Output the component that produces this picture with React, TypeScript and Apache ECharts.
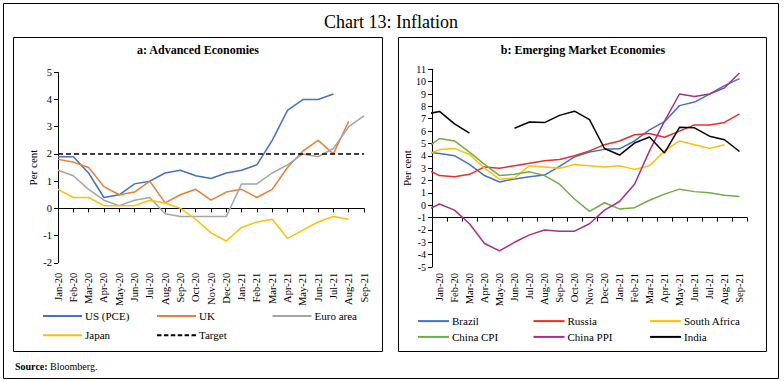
import React, { useEffect, useRef } from "react";
import * as echarts from "echarts";

const FONT = "'Liberation Serif', 'Times New Roman', serif";

// Panel a: Advanced Economies (Jan-20 .. Sep-21)
const catsL = ["Jan-20","Feb-20","Mar-20","Apr-20","May-20","Jun-20","Jul-20","Aug-20","Sep-20","Oct-20","Nov-20","Dec-20","Jan-21","Feb-21","Mar-21","Apr-21","May-21","Jun-21","Jul-21","Aug-21","Sep-21"];
const usPce = [1.9,1.9,1.3,0.4,0.5,0.9,1.0,1.3,1.4,1.2,1.1,1.3,1.4,1.6,2.5,3.6,4.0,4.0,4.2,null,null];
const uk = [1.8,1.7,1.5,0.8,0.5,0.6,1.0,0.2,0.5,0.7,0.3,0.6,0.7,0.4,0.7,1.5,2.1,2.5,2.0,3.2,null];
const euroArea = [1.4,1.2,0.7,0.3,0.1,0.3,0.4,-0.2,-0.3,-0.3,-0.3,-0.3,0.9,0.9,1.3,1.6,2.0,1.9,2.2,3.0,3.4];
const japan = [0.7,0.4,0.4,0.1,0.1,0.1,0.3,0.2,0.0,-0.4,-0.9,-1.2,-0.7,-0.5,-0.4,-1.1,-0.8,-0.5,-0.3,-0.4,null];
const target = [2,2,2,2,2,2,2,2,2,2,2,2,2,2,2,2,2,2,2,2,2];

// Panel b: Emerging Market Economies (Dec-19 .. Sep-21; axis shows Jan-20 .. Sep-21)
const catsR = ["Dec-19","Jan-20","Feb-20","Mar-20","Apr-20","May-20","Jun-20","Jul-20","Aug-20","Sep-20","Oct-20","Nov-20","Dec-20","Jan-21","Feb-21","Mar-21","Apr-21","May-21","Jun-21","Jul-21","Aug-21","Sep-21"];
const brazil = [4.31,4.19,4.01,3.30,2.40,1.88,2.13,2.31,2.44,3.14,3.92,4.31,4.52,4.56,5.20,6.10,6.76,8.06,8.35,8.99,9.68,10.25];
const russia = [3.0,2.4,2.3,2.5,3.1,3.0,3.2,3.4,3.6,3.7,4.0,4.4,4.9,5.2,5.7,5.8,5.5,6.0,6.5,6.5,6.7,7.4];
const southAfrica = [4.0,4.5,4.6,4.1,3.0,2.1,2.2,3.2,3.1,3.0,3.3,3.2,3.1,3.2,2.9,3.2,4.4,5.2,4.9,4.6,4.9,null];
const chinaCpi = [4.5,5.4,5.2,4.3,3.3,2.4,2.5,2.7,2.4,1.7,0.5,-0.5,0.2,-0.3,-0.2,0.4,0.9,1.3,1.1,1.0,0.8,0.7];
const chinaPpi = [-0.5,0.1,-0.4,-1.5,-3.1,-3.7,-3.0,-2.4,-2.0,-2.1,-2.1,-1.5,-0.4,0.3,1.7,4.4,6.8,9.0,8.8,9.0,9.5,10.7];
const india = [7.35,7.59,6.58,5.84,null,null,6.23,6.73,6.69,7.27,7.61,6.93,4.59,4.06,5.03,5.52,4.23,6.30,6.26,5.59,5.30,4.35];

const seriesL = [
  { name: "US (PCE)", data: usPce, color: "#4472C4" },
  { name: "UK", data: uk, color: "#ED7D31" },
  { name: "Euro area", data: euroArea, color: "#A5A5A5" },
  { name: "Japan", data: japan, color: "#FFC000" },
];
const seriesR = [
  { name: "Brazil", data: brazil, color: "#4472C4" },
  { name: "Russia", data: russia, color: "#E8302A" },
  { name: "South Africa", data: southAfrica, color: "#FFC000" },
  { name: "China CPI", data: chinaCpi, color: "#70AD47" },
  { name: "China PPI", data: chinaPpi, color: "#A8308C" },
  { name: "India", data: india, color: "#000000" },
];

const legendL = [
  { name: "US (PCE)", x: 43, y: 316.6 },
  { name: "UK", x: 157, y: 316.6 },
  { name: "Euro area", x: 272.5, y: 316.6 },
  { name: "Japan", x: 43, y: 335.8 },
  { name: "Target", x: 157, y: 335.8 },
];
const legendR = [
  { name: "Brazil", x: 418, y: 321.6 },
  { name: "Russia", x: 533.5, y: 321.6 },
  { name: "South Africa", x: 650, y: 321.6 },
  { name: "China CPI", x: 418, y: 337.4 },
  { name: "China PPI", x: 533.5, y: 337.4 },
  { name: "India", x: 650, y: 337.4 },
];

const DASH_ICON =
  "path://M0,0h4.5v2h-4.5z M6.9,0h4.5v2h-4.5z M13.8,0h4.5v2h-4.5z M20.7,0h4.5v2h-4.5z M27.6,0h4.5v2h-4.5z M34.5,0h4.5v2h-4.5z";

export default function App() {
  const ref = useRef<HTMLDivElement>(null);
  useEffect(() => {
    if (!ref.current) return;
    const chart = echarts.init(ref.current, undefined, { renderer: "svg" });

    const axisLineStyle = { color: "#000", width: 1 };
    const labelStyle = { fontFamily: FONT, color: "#000" };

    const mkLegend = (it: any, w: number) => ({
      data: [it.name],
      left: it.x,
      top: it.y - 6,
      padding: 0,
      itemWidth: w,
      itemHeight: 2,
      icon: it.name === "Target" ? DASH_ICON : "rect",
      selectedMode: false,
      textStyle: { fontFamily: FONT, fontSize: 11, color: "#000", padding: [0, 0, 0, -2] },
    });

    const option: any = {
      animation: false,
      backgroundColor: "#fff",
      textStyle: { fontFamily: FONT },
      grid: [
        { left: 58, top: 72.3, width: 306, height: 190.5 },
        { left: 432, top: 69.3, width: 315, height: 197.7 },
      ],
      xAxis: [
        {
          gridIndex: 0, type: "category", data: catsL, boundaryGap: false, position: "bottom",
          axisLine: { show: true, onZero: true, lineStyle: axisLineStyle },
          axisTick: { show: true, interval: 0, length: 4, lineStyle: axisLineStyle },
          axisLabel: { show: false },
          splitLine: { show: false },
        },
        {
          gridIndex: 0, type: "category", data: catsL, boundaryGap: false, position: "bottom",
          axisLine: { show: false, onZero: false },
          axisTick: { show: false },
          axisLabel: { ...labelStyle, rotate: 90, interval: 0, fontSize: 10.5, margin: 10 },
          splitLine: { show: false },
        },
        {
          gridIndex: 1, type: "value", min: -0.5, max: 20.5, interval: 1, position: "bottom",
          axisLine: { show: true, onZero: true, onZeroAxisIndex: 2, lineStyle: axisLineStyle },
          axisTick: { show: true, length: 4, lineStyle: axisLineStyle },
          axisLabel: { show: false },
          splitLine: { show: false },
        },
        {
          gridIndex: 1, type: "category", data: catsR.slice(1), boundaryGap: true, position: "bottom",
          axisLine: { show: false, onZero: false },
          axisTick: { show: false },
          axisLabel: { ...labelStyle, rotate: 90, interval: 0, fontSize: 10.5, margin: 6 },
          splitLine: { show: false },
        },
      ],
      yAxis: [
        {
          gridIndex: 0, type: "value", min: -2, max: 5, interval: 1,
          name: "Per cent", nameLocation: "middle", nameGap: 20,
          nameTextStyle: { fontFamily: FONT, fontSize: 11, color: "#000" },
          axisLine: { show: true, onZero: false, lineStyle: axisLineStyle },
          axisTick: { show: true, length: 4, lineStyle: axisLineStyle },
          axisLabel: { ...labelStyle, fontSize: 10.5, margin: 6 },
          splitLine: { show: false },
        },
        {
          gridIndex: 1, type: "value", min: -5, max: 11, interval: 1,
          name: "Per cent", nameLocation: "middle", nameGap: 19,
          nameTextStyle: { fontFamily: FONT, fontSize: 11, color: "#000" },
          axisLine: { show: true, onZero: false, lineStyle: axisLineStyle },
          axisTick: { show: true, length: 4, lineStyle: axisLineStyle },
          axisLabel: { ...labelStyle, fontSize: 10, margin: 6 },
          splitLine: { show: false },
        },
        {
          gridIndex: 1, type: "value", min: -4, max: 12, position: "left",
          axisLine: { show: false, onZero: false },
          axisTick: { show: false },
          axisLabel: { show: false },
          splitLine: { show: false },
        },
      ],
      legend: [
        ...legendL.map((it) => mkLegend(it, 39)),
        ...legendR.map((it) => mkLegend(it, 31)),
      ],
      series: [
        ...seriesL.map((s) => ({
          name: s.name, type: "line", xAxisIndex: 0, yAxisIndex: 0, data: s.data,
          symbol: "none", color: s.color, lineStyle: { color: s.color, width: 1.5 },
        })),
        {
          name: "Target", type: "line", xAxisIndex: 0, yAxisIndex: 0, data: target,
          symbol: "none", color: "#000", lineStyle: { color: "#000", width: 1.6, type: [5, 3] },
        },
        ...seriesR.map((s) => ({
          name: s.name, type: "line", xAxisIndex: 2, yAxisIndex: 1, clip: true,
          data: s.data.map((v, i) => [i - 1, v == null ? "-" : v]),
          symbol: "none", color: s.color, lineStyle: { color: s.color, width: 1.5 },
        })),
      ],
      graphic: [
        { type: "rect", shape: { x: 3.5, y: 3.5, width: 775, height: 375 }, style: { fill: "none", stroke: "#000", lineWidth: 1 }, silent: true },
        { type: "rect", shape: { x: 13.5, y: 37.5, width: 369, height: 314 }, style: { fill: "none", stroke: "#000", lineWidth: 1 }, silent: true },
        { type: "rect", shape: { x: 398.5, y: 37.5, width: 368, height: 314 }, style: { fill: "none", stroke: "#000", lineWidth: 1 }, silent: true },
        {
          type: "text", x: 391, y: 22,
          style: { text: "Chart 13: Inflation", fontFamily: FONT, fontSize: 18, fill: "#000", textAlign: "center", textVerticalAlign: "middle", align: "center", verticalAlign: "middle" },
        },
        {
          type: "text", x: 198, y: 50,
          style: { text: "a: Advanced Economies", fontFamily: FONT, fontSize: 12, fontWeight: "bold", fill: "#000", textAlign: "center", textVerticalAlign: "middle", align: "center", verticalAlign: "middle" },
        },
        {
          type: "text", x: 583, y: 50,
          style: { text: "b: Emerging Market Economies", fontFamily: FONT, fontSize: 12, fontWeight: "bold", fill: "#000", textAlign: "center", textVerticalAlign: "middle", align: "center", verticalAlign: "middle" },
        },
        {
          type: "text", x: 15, y: 366,
          style: {
            text: "{b|Source:} Bloomberg.", fontFamily: FONT, fontSize: 10, fill: "#000",
            textVerticalAlign: "middle", verticalAlign: "middle",
            rich: { b: { fontFamily: FONT, fontSize: 10, fontWeight: "bold", fill: "#000" } },
          },
        },
      ],
    };
    chart.setOption(option);
    return () => chart.dispose();
  }, []);
  return (
    <div
      ref={ref}
      style={{ position: "absolute", left: 0, top: 0, width: 784, height: 381, background: "#fff" }}
    />
  );
}
